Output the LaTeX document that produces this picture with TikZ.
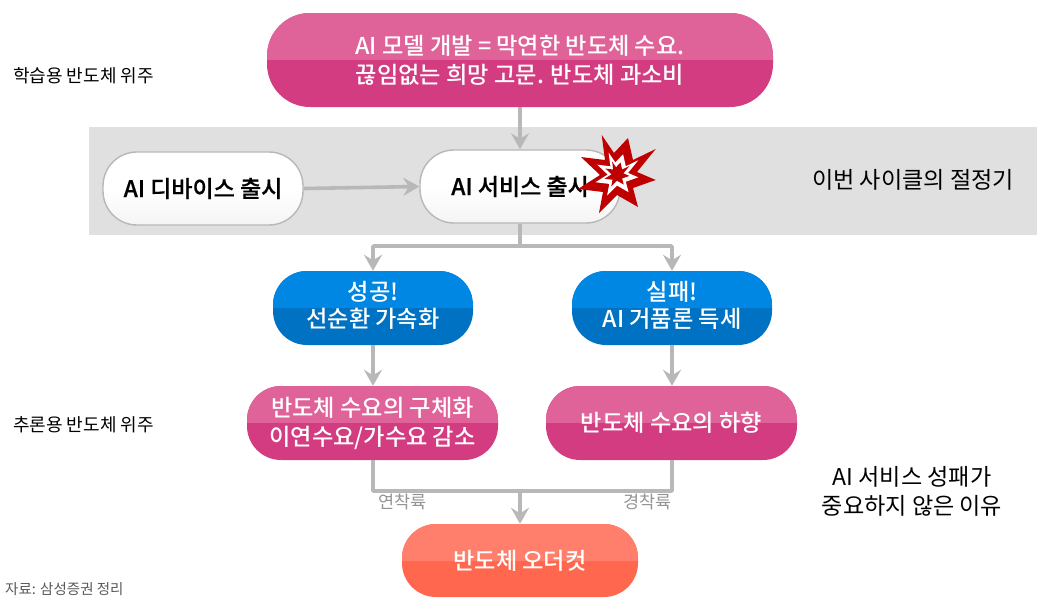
\documentclass[tikz,border=0pt]{standalone}
\usepackage{fontspec}
\setmainfont{Noto Sans CJK KR}
\newfontfamily\medf{Noto Sans CJK KR Medium}
\newfontfamily\semif{Noto Sans CJK KR Medium}[FakeBold=0.6]
\usetikzlibrary{arrows.meta,calc}
\definecolor{pinkT}{HTML}{DF6398}
\definecolor{pinkB}{HTML}{D33C80}
\definecolor{blueT}{HTML}{0086E3}
\definecolor{blueB}{HTML}{0072C4}
\definecolor{orangeT}{HTML}{FF7F6C}
\definecolor{orangeB}{HTML}{FF674E}
\definecolor{linegray}{HTML}{B8B8B8}
\definecolor{bandgray}{HTML}{E0E0E0}
\definecolor{starred}{HTML}{BE0000}
\tikzset{
  pill/.style n args={5}{rectangle,rounded corners=#3,minimum width=#1,minimum height=#2,inner sep=0pt,
    text=white,align=center,fill=#5,font=\medf\fontsize{23.2}{29}\selectfont,
    path picture={\fill[#4,sharp corners] (path picture bounding box.north west) rectangle (path picture bounding box.east);}},
  whitepill/.style={rectangle,rounded corners=34pt,minimum width=200pt,minimum height=73pt,inner sep=0pt,
    draw=linegray,line width=1.4pt,shade,top color=white,bottom color=black!4,middle color=white,
    text=black,align=center,font=\semif\fontsize{23}{26}\selectfont},
  conn/.style={draw=linegray,line width=3.6pt},
  arr/.style={conn,-{Stealth[length=16pt,width=18pt,inset=5.5pt]},shorten >=0pt},
  note/.style={inner sep=0pt,text=black,align=center,font=\fontsize{18}{20}\selectfont},
  bignote/.style={inner sep=0pt,text=black,align=center,font=\fontsize{23.1}{29}\selectfont},
  small/.style={inner sep=0pt,text=#1,font=\fontsize{14.5}{18}\selectfont},
}
\newcommand{\burst}{(-15.3,-39) -- (-3,-21) -- (11,-36) -- (16,-14) -- (38.7,-25) -- (20,-2) -- (38.7,6) -- (16,14) -- (21,33) -- (0,21) -- (-18,39) -- (-14,18) -- (-39,15) -- (-17,1) -- (-36,-17) -- (-12,-14) -- cycle}
\begin{document}
\begin{tikzpicture}[x=1pt,y=-1pt]
\useasboundingbox (0,0) rectangle (1044,605);
\fill[bandgray] (89,127) rectangle (1037,235);

\node[pill={506pt}{94pt}{43pt}{pinkT}{pinkB}] (top) at (520,60) {AI 모델 개발 = 막연한 반도체 수요.\\끊임없는 희망 고문. 반도체 과소비};
\node[whitepill] (device) at (203,188.5) {\raisebox{-8pt}{AI 디바이스 출시}};
\node[whitepill] (service) at (520,186.5) {\raisebox{-8pt}{AI 서비스 출시}};
\node[pill={200pt}{74pt}{34pt}{blueT}{blueB}] (succ) at (373,308) {\raisebox{-1.5pt}{\begin{tabular}{@{}c@{}}성공!\\[-2pt]선순환 가속화\end{tabular}}};
\node[pill={200pt}{74pt}{34pt}{blueT}{blueB}] (fail) at (672,308) {\raisebox{-1.5pt}{\begin{tabular}{@{}c@{}}실패!\\[-2pt]AI 거품론 득세\end{tabular}}};
\node[pill={251pt}{74pt}{34pt}{pinkT}{pinkB}] (conc) at (372.5,423) {반도체 수요의 구체화\\이연수요/가수요 감소};
\node[pill={251pt}{74pt}{34pt}{pinkT}{pinkB}] (down) at (671.5,423) {반도체 수요의 하향};
\node[pill={236pt}{73pt}{34pt}{orangeT}{orangeB}] (over) at (520,560.5) {반도체 오더컷};

\coordinate (split) at (520,246);
\coordinate (leftb) at (373,246);
\coordinate (rightb) at (672,246);
\coordinate (merge) at (520,491);
\coordinate (leftm) at (373,491);
\coordinate (rightm) at (672,491);

\draw[arr] (top.south) -- (service.north);
\draw[arr] (device.east) -- (service.west);
\draw[conn] (service.south) -- (split);
\draw[arr,rounded corners=1pt] (split) -- (leftb) -- (succ.north);
\draw[arr,rounded corners=1pt] (split) -- (rightb) -- (fail.north);
\draw[arr] (succ.south) -- (succ.south |- conc.north);
\draw[arr] (fail.south) -- (fail.south |- down.north);
\draw[conn,line join=round] (conc.south -| leftm) -- (leftm) -- (rightm) -- (down.south -| rightm);
\draw[arr] (merge) -- (over.north);

\coordinate (boom) at (617,174);
\fill[starred,shift={(boom)}] \burst;
\fill[white,shift={(boom)},scale=0.55] \burst;
\fill[starred,shift={(boom)},scale=0.32] \burst;

\node[note,anchor=west] (lab1) at (13,76) {학습용 반도체 위주};
\node[note,anchor=west] (lab2) at (13,425) {추론용 반도체 위주};
\node[bignote,anchor=west] (lab3) at (812,180) {이번 사이클의 절정기};
\node[bignote] (lab4) at (912,491.5) {AI 서비스 성패가\\중요하지 않은 이유};
\node[small=black!65,anchor=west] (src) at (5,589) {자료: 삼성증권 정리};
\node[small=black!42,font=\fontsize{17.5}{20}\selectfont,anchor=west] (soft) at (378,502) {연착륙};
\node[small=black!42,font=\fontsize{17.5}{20}\selectfont,anchor=east] (hard) at (672,502) {경착륙};
\end{tikzpicture}
\end{document}
